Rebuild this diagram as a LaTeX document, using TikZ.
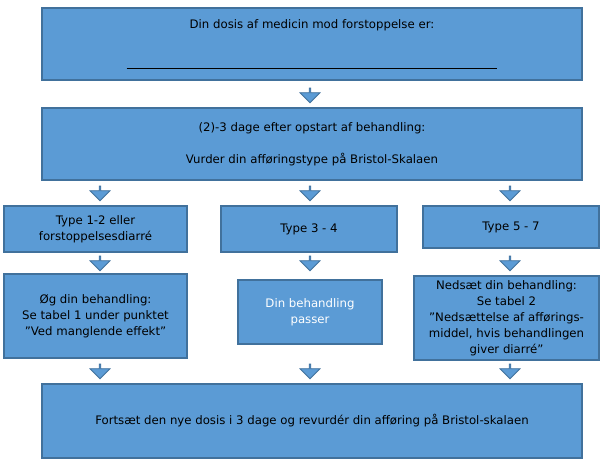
\documentclass[tikz,border=0pt]{standalone}
\usepackage{fontspec}
\setmainfont{DejaVu Sans}
\usetikzlibrary{shapes.arrows}

\tikzset{
  box/.style={rectangle, draw=boxline, fill=boxfill, line width=0.8pt, align=center,
    font=\fontsize{8.8}{12}\selectfont, inner sep=1pt},
  downarrow/.style={single arrow, draw=boxline, fill=boxfill, line width=0.6pt, shape border rotate=270,
    minimum height=11pt, minimum width=15pt, single arrow head extend=3.5pt, inner sep=0pt}
}
\definecolor{boxfill}{HTML}{5B9BD5}
\definecolor{boxline}{HTML}{41719C}

\begin{document}
\begin{tikzpicture}[x=0.75pt,y=-0.75pt]
\useasboundingbox (0,0) rectangle (607,466);

%Dosis og Bristol
\node[box, minimum width=405pt, minimum height=54pt](dosis) at (312,44)
  {Din dosis af medicin mod forstoppelse er:\\[18pt]\rule{278pt}{0.5pt}};
\node[box, minimum width=405pt, minimum height=54pt](vurder) at (312,144)
  {(2)-3 dage efter opstart af behandling:\\[12pt]Vurder din afføringstype på Bristol-Skalaen};

%Typer
\node[box, minimum width=137.25pt, minimum height=34.5pt](type12) at (95.5,229) {Type 1-2 eller\\forstoppelsesdiarré};
\node[box, minimum width=132pt, minimum height=34.5pt](type34) at (309,229) {Type 3 - 4};
\node[box, minimum width=132pt, minimum height=31.5pt](type57) at (511,227) {Type 5 - 7};

%Handlinger
\node[box, minimum width=137.25pt, minimum height=63pt](oeg) at (95.5,316)
  {Øg din behandling:\\Se tabel 1 under punktet\\”Ved manglende effekt”};
\node[box, minimum width=108pt, minimum height=48pt, text=white](passer) at (310,312)
  {Din behandling\\passer};
\node[box, minimum width=138.75pt, minimum height=63pt](nedsaet) at (506.5,318)
  {Nedsæt din behandling:\\Se tabel 2\\\symbol{34}Nedsættelse af afførings-\\middel, hvis behandlingen\\giver diarré\symbol{34}};

%Fortsaet
\node[box, minimum width=405pt, minimum height=55.5pt](fortsaet) at (312,421)
  {Fortsæt den nye dosis i 3 dage og revurdér din afføring på Bristol-skalaen};

%Pile
\node[downarrow](a1) at (310,95) {};
\foreach \x/\n in {100/l, 310/m, 510/r}{
  \node[downarrow](b\n) at (\x,193) {};
  \node[downarrow](c\n) at (\x,263) {};
  \node[downarrow](d\n) at (\x,371) {};
}

\end{tikzpicture}
\end{document}
